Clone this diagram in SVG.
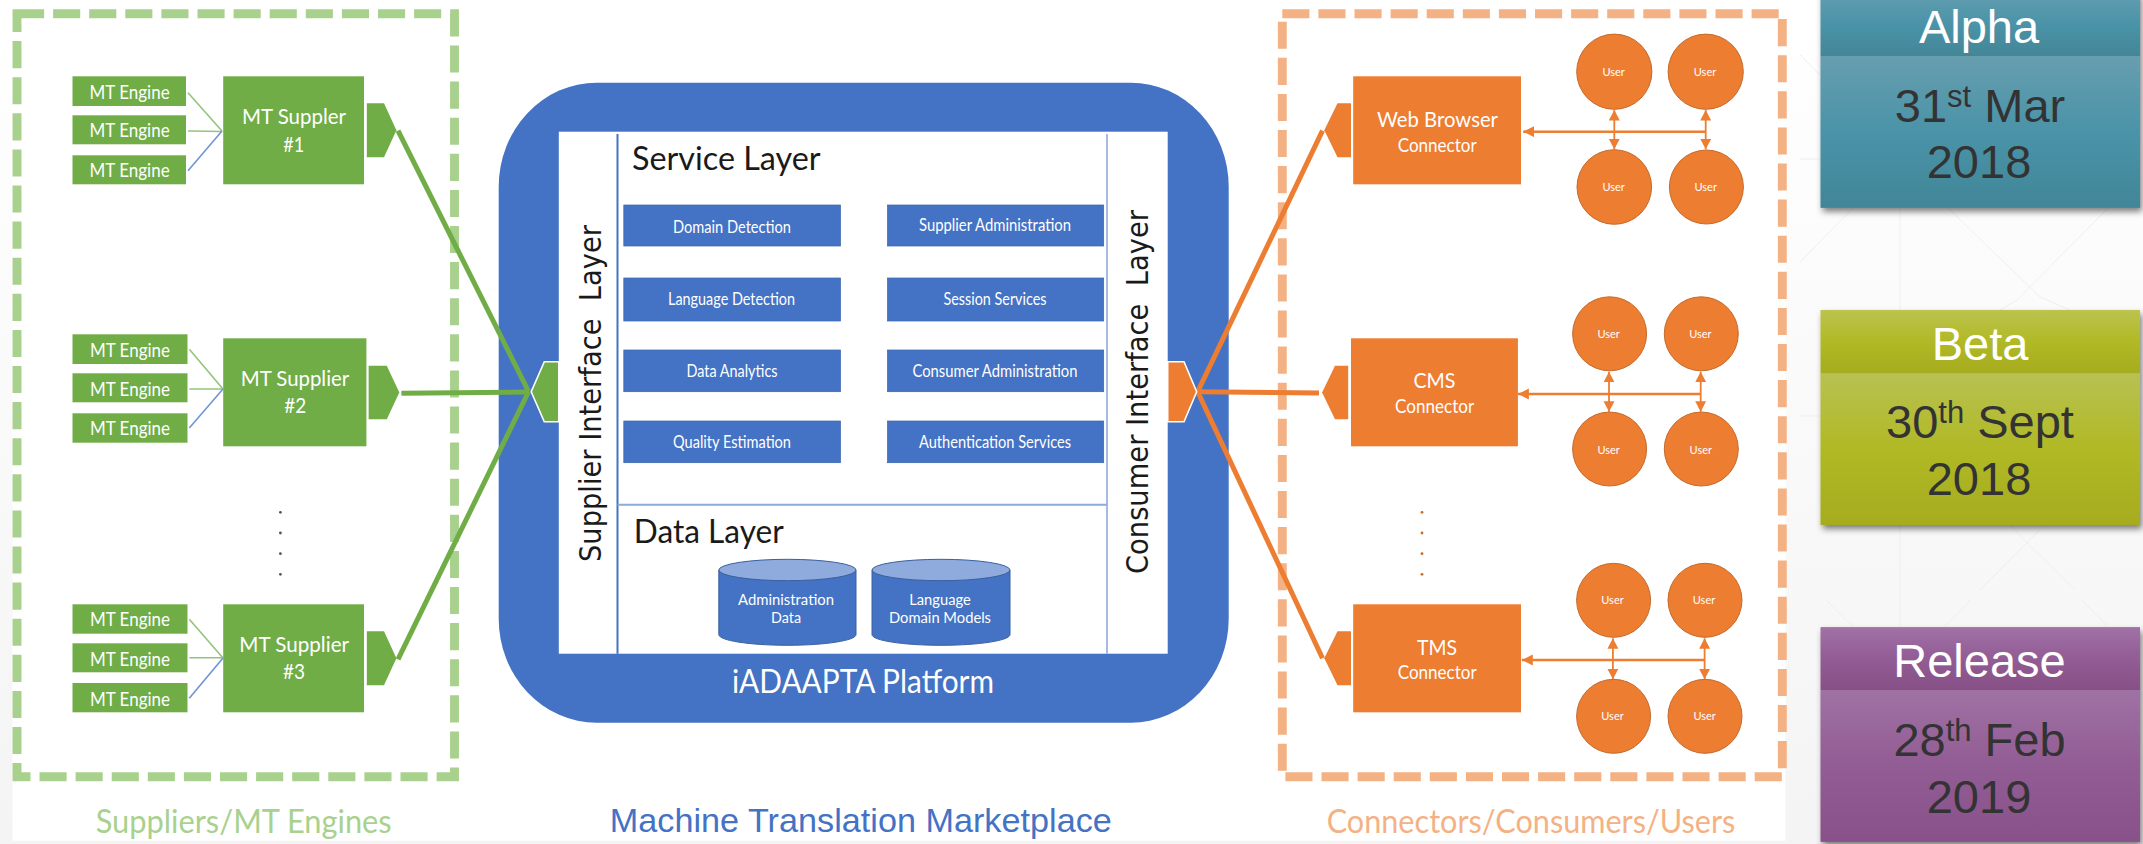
<svg xmlns="http://www.w3.org/2000/svg" width="2143" height="844" viewBox="0 0 2143 844">
<style>
text{font-family:"Lato","Open Sans",sans-serif;fill:#fff;text-anchor:middle;white-space:pre}
.en{font-size:18.5px}.sup{font-size:22px}.sm{font-size:20px}.svc{font-size:17px}.db{font-size:15.5px}.user{font-size:11px}
.eng,.sp,.gp{fill:#70AD47}.op,.on{fill:#ED7D31}
.svcbox{fill:#4472C4;stroke:#3A64AE;stroke-width:.7}
.cy{fill:#4472C4;stroke:#39619f;stroke-width:1}.cyt{fill:#8FAADC;stroke:#39619f;stroke-width:1}
.u{fill:#ED7D31;stroke:#C46A2B;stroke-width:1}
.gl{stroke:#70AD47;stroke-width:5;fill:none}.ol{stroke:#ED7D31;stroke-width:5;fill:none}
.g1{stroke:#93C47D;stroke-width:1.6}.b1{stroke:#6F94D8;stroke-width:1.6}
.oa{stroke:#ED7D31;stroke-width:1.8;marker-start:url(#ah);marker-end:url(#ah)}
.oh{stroke:#ED7D31;stroke-width:2.6;marker-end:url(#ahh)}
.bg{stroke:#EFEFEF;stroke-width:1;fill:none}
.ar{font-family:"Liberation Sans",Arial,sans-serif}
.tl{font-size:47px}.dk{fill:#333}
.rot{font-family:"DejaVu Sans",sans-serif;font-size:30px;fill:#1a1a1a}
.hd{font-size:32px;fill:#1a1a1a}
.cap{font-size:33px}
</style>
<defs>
<linearGradient id="page" x1="0" y1="0" x2="0" y2="1"><stop offset="0" stop-color="#fff"/><stop offset="1" stop-color="#F4F4F4"/></linearGradient>
<linearGradient id="ah1" x1="0" y1="0" x2="0" y2="1"><stop offset="0" stop-color="#639DAF"/><stop offset=".5" stop-color="#4A93A8"/><stop offset="1" stop-color="#438697"/></linearGradient>
<linearGradient id="ab1" x1="0" y1="0" x2="0" y2="1"><stop offset="0" stop-color="#679EAF"/><stop offset=".5" stop-color="#4A93A8"/><stop offset="1" stop-color="#418698"/></linearGradient>
<linearGradient id="bh1" x1="0" y1="0" x2="0" y2="1"><stop offset="0" stop-color="#BCC350"/><stop offset=".5" stop-color="#B1B925"/><stop offset="1" stop-color="#A6AC1E"/></linearGradient>
<linearGradient id="bb1" x1="0" y1="0" x2="0" y2="1"><stop offset="0" stop-color="#B8C152"/><stop offset=".5" stop-color="#B1B925"/><stop offset="1" stop-color="#A6AC1E"/></linearGradient>
<linearGradient id="rh1" x1="0" y1="0" x2="0" y2="1"><stop offset="0" stop-color="#A172A6"/><stop offset=".5" stop-color="#925C94"/><stop offset="1" stop-color="#875087"/></linearGradient>
<linearGradient id="rb1" x1="0" y1="0" x2="0" y2="1"><stop offset="0" stop-color="#9F72A4"/><stop offset=".5" stop-color="#925C94"/><stop offset="1" stop-color="#885189"/></linearGradient>
<filter id="sh" x="-5%" y="-5%" width="110%" height="112%"><feDropShadow dx="2" dy="4" stdDeviation="3" flood-color="#000" flood-opacity=".5"/></filter>
<marker id="ah" markerUnits="userSpaceOnUse" markerWidth="12" markerHeight="12" refX="10.5" refY="5.5" orient="auto-start-reverse"><path d="M0 0L10.5 5.5L0 11z" fill="#ED7D31"/></marker>
<marker id="ahh" markerUnits="userSpaceOnUse" markerWidth="12" markerHeight="12" refX="11" refY="5.5" orient="auto"><path d="M0 0L11 5.5L0 11z" fill="#ED7D31"/></marker>
</defs>

<g id="background">
<rect width="2143" height="844" fill="url(#page)"/>
<path class="bg" d="M1800 55L1820 75M1800 159H1820M1853 208L1800 262M1948 208L2040 297L2070 310M2108 208L2017 300L2000 310M1900 208V310M1900 525V627M1800 416H1820M2010 525L2027 543L2044 525M2027 543L2075 590M2027 543L1980 590M1826 600L1853 627M1945 627L1970 600M2082 600L2108 627"/>
<rect x="12.5" y="8" width="1773" height="832.7" fill="#fff"/>
</g>

<g id="suppliers-region"><rect x="17" y="13.7" width="437.5" height="763" fill="none" stroke="#A9D18E" stroke-width="8.9" stroke-dasharray="27.1 9"/></g>
<g id="consumers-region"><rect x="1282.3" y="13.7" width="500" height="763" fill="none" stroke="#F4B183" stroke-width="8.9" stroke-dasharray="27.1 9"/></g>

<g id="platform">
<rect x="498.7" y="82.7" width="730" height="640" rx="98" ry="104" fill="#4472C4"/>
<rect x="558.8" y="131.7" width="608.9" height="522" fill="#fff"/>
<line x1="617.5" y1="134" x2="617.5" y2="653.7" stroke="#4472C4" stroke-width="2"/>
<line x1="1107" y1="134" x2="1107" y2="653.7" stroke="#8FAADC" stroke-width="1.6"/>
<line x1="617.5" y1="504.7" x2="1107" y2="504.7" stroke="#8FAADC" stroke-width="2"/>
<text class="hd" x="726.3" y="170" textLength="188.6" lengthAdjust="spacingAndGlyphs">Service Layer</text>
<text class="hd" x="708.8" y="543.3" textLength="150" lengthAdjust="spacingAndGlyphs">Data Layer</text>
<text class="cap" x="863" y="693" textLength="262" lengthAdjust="spacingAndGlyphs">iADAAPTA Platform</text>
<text class="rot" transform="translate(600.5,393.5) rotate(-90)" textLength="337" lengthAdjust="spacingAndGlyphs">Supplier Interface  Layer</text>
<text class="rot" transform="translate(1147.8,392) rotate(-90)" textLength="364" lengthAdjust="spacingAndGlyphs">Consumer Interface  Layer</text>
</g>

<g id="svc-domain"><rect class="svcbox" x="623.8" y="205" width="216.7" height="41"/><text class="svc" x="732" y="232.5" textLength="118" lengthAdjust="spacingAndGlyphs">Domain Detection</text></g>
<g id="svc-language"><rect class="svcbox" x="623.8" y="278" width="216.7" height="43"/><text class="svc" x="731.5" y="305" textLength="127" lengthAdjust="spacingAndGlyphs">Language Detection</text></g>
<g id="svc-analytics"><rect class="svcbox" x="623.8" y="350" width="216.7" height="41.7"/><text class="svc" x="732" y="376.5" textLength="91" lengthAdjust="spacingAndGlyphs">Data Analytics</text></g>
<g id="svc-quality"><rect class="svcbox" x="623.8" y="421" width="216.7" height="41.7"/><text class="svc" x="732" y="448" textLength="118" lengthAdjust="spacingAndGlyphs">Quality Estimation</text></g>
<g id="svc-supplier-admin"><rect class="svcbox" x="887.5" y="205" width="216.2" height="41"/><text class="svc" x="995" y="230.5" textLength="152" lengthAdjust="spacingAndGlyphs">Supplier Administration</text></g>
<g id="svc-session"><rect class="svcbox" x="887.5" y="278" width="216.2" height="43"/><text class="svc" x="995" y="305" textLength="103" lengthAdjust="spacingAndGlyphs">Session Services</text></g>
<g id="svc-consumer-admin"><rect class="svcbox" x="887.5" y="350" width="216.2" height="41.7"/><text class="svc" x="995" y="376.5" textLength="165" lengthAdjust="spacingAndGlyphs">Consumer Administration</text></g>
<g id="svc-auth"><rect class="svcbox" x="887.5" y="421" width="216.2" height="41.7"/><text class="svc" x="995" y="448" textLength="152" lengthAdjust="spacingAndGlyphs">Authentication Services</text></g>

<g id="db-admin">
<path class="cy" d="M718.8 570V634.6C718.8 640.5 749.5 645.3 787.4 645.3S856 640.5 856 634.6V570z"/>
<ellipse class="cyt" cx="787.4" cy="570" rx="68.6" ry="10.7"/>
<text class="db" x="786" y="604.5" textLength="96" lengthAdjust="spacingAndGlyphs">Administration</text>
<text class="db" x="786" y="622.5" textLength="30" lengthAdjust="spacingAndGlyphs">Data</text>
</g>
<g id="db-language">
<path class="cy" d="M872 570V634.6C872 640.5 903 645.3 941 645.3S1010 640.5 1010 634.6V570z"/>
<ellipse class="cyt" cx="941" cy="570" rx="69" ry="10.7"/>
<text class="db" x="940" y="604.5" textLength="61.6" lengthAdjust="spacingAndGlyphs">Language</text>
<text class="db" x="940" y="622.5" textLength="102" lengthAdjust="spacingAndGlyphs">Domain Models</text>
</g>

<g id="connectors">
<line class="g1" x1="188" y1="92.7" x2="222" y2="131"/><line class="g1" x1="188" y1="131" x2="222" y2="131.5"/><line class="b1" x1="188" y1="170.7" x2="222" y2="131"/>
<line class="g1" x1="189.3" y1="349.3" x2="223" y2="389"/><line class="g1" x1="189.3" y1="389" x2="223" y2="389"/><line class="b1" x1="189.3" y1="428" x2="223" y2="389"/>
<line class="g1" x1="189.3" y1="619.3" x2="223" y2="658"/><line class="g1" x1="189.3" y1="657.7" x2="223" y2="657.7"/><line class="b1" x1="189.3" y1="698.3" x2="223" y2="658"/>
<line class="gl" x1="398" y1="130.7" x2="528.6" y2="391.7"/>
<line class="gl" x1="401.4" y1="393.3" x2="528.6" y2="392"/>
<line class="gl" x1="398" y1="659.3" x2="528.6" y2="391.7"/>
<line class="ol" x1="1322.5" y1="130.7" x2="1197.7" y2="391.7"/>
<line class="ol" x1="1319" y1="393" x2="1197.7" y2="391.7"/>
<line class="ol" x1="1322.5" y1="658.3" x2="1197.7" y2="391.7"/>
<line class="oh" x1="1705.7" y1="131.7" x2="1523.2" y2="131.7"/>
<line class="oa" x1="1614.3" y1="110" x2="1614.3" y2="149.3"/><line class="oa" x1="1705.7" y1="110" x2="1705.7" y2="149.3"/>
<line class="oh" x1="1701" y1="394" x2="1517.9" y2="394"/>
<line class="oa" x1="1609" y1="371.7" x2="1609" y2="411.7"/><line class="oa" x1="1700.7" y1="371.7" x2="1700.7" y2="411.7"/>
<line class="oh" x1="1704.6" y1="660" x2="1521.8" y2="660"/>
<line class="oa" x1="1612.9" y1="638.3" x2="1612.9" y2="679.3"/><line class="oa" x1="1704.6" y1="638.3" x2="1704.6" y2="679.3"/>
</g>

<g id="hub-supplier"><path d="M558.8 361.7H544.3L531.2 391.7L544.3 421.7H558.8z" fill="#70AD47" stroke="#fff" stroke-width="1.6"/></g>
<g id="hub-consumer"><path d="M1167.7 361.7H1184L1196.7 391.7L1184 421.7H1167.7z" fill="#ED7D31" stroke="#fff" stroke-width="1.6"/></g>

<g id="engines-1">
<rect class="eng" x="72.5" y="76.3" width="113.5" height="29.7"/><text class="en" x="129.6" y="98.5" textLength="80" lengthAdjust="spacingAndGlyphs">MT Engine</text>
<rect class="eng" x="72.5" y="115.3" width="113.5" height="29"/><text class="en" x="129.6" y="137.3" textLength="80" lengthAdjust="spacingAndGlyphs">MT Engine</text>
<rect class="eng" x="72.5" y="155.3" width="113.5" height="29"/><text class="en" x="129.6" y="177.3" textLength="80" lengthAdjust="spacingAndGlyphs">MT Engine</text>
</g>
<g id="engines-2">
<rect class="eng" x="72.5" y="334.3" width="115" height="29.7"/><text class="en" x="130" y="357" textLength="80" lengthAdjust="spacingAndGlyphs">MT Engine</text>
<rect class="eng" x="72.5" y="373.3" width="115" height="29"/><text class="en" x="130" y="395.6" textLength="80" lengthAdjust="spacingAndGlyphs">MT Engine</text>
<rect class="eng" x="72.5" y="413.3" width="115" height="29.4"/><text class="en" x="130" y="435.3" textLength="80" lengthAdjust="spacingAndGlyphs">MT Engine</text>
</g>
<g id="engines-3">
<rect class="eng" x="72.5" y="604.3" width="115" height="29.4"/><text class="en" x="130" y="625.5" textLength="80" lengthAdjust="spacingAndGlyphs">MT Engine</text>
<rect class="eng" x="72.5" y="643.3" width="115" height="29"/><text class="en" x="130" y="665.5" textLength="80" lengthAdjust="spacingAndGlyphs">MT Engine</text>
<rect class="eng" x="72.5" y="683" width="115" height="29.3"/><text class="en" x="130" y="705.5" textLength="80" lengthAdjust="spacingAndGlyphs">MT Engine</text>
</g>

<g id="supplier-1"><rect class="sp" x="223.2" y="76.3" width="140.8" height="108"/><path class="gp" d="M366.8 103.3H384L396.4 130.3L384 157.3H366.8z"/>
<text class="sup" x="294" y="124" textLength="104" lengthAdjust="spacingAndGlyphs">MT Suppler</text><text class="sup" x="293.8" y="151.7" textLength="21" lengthAdjust="spacingAndGlyphs">#1</text></g>
<g id="supplier-2"><rect class="sp" x="223.2" y="338.3" width="143.2" height="108"/><path class="gp" d="M368.6 365.7H386.8L399.3 392.5L386.8 419.3H368.6z"/>
<text class="sup" x="295" y="386" textLength="108.6" lengthAdjust="spacingAndGlyphs">MT Supplier</text><text class="sup" x="295.2" y="413.3" textLength="22" lengthAdjust="spacingAndGlyphs">#2</text></g>
<g id="supplier-3"><rect class="sp" x="223.2" y="604.3" width="140.8" height="108"/><path class="gp" d="M366.8 631.3H384L396.4 658.3L384 685.3H366.8z"/>
<text class="sup" x="294.2" y="651.7" textLength="109.7" lengthAdjust="spacingAndGlyphs">MT Supplier</text><text class="sup" x="294" y="679" textLength="22" lengthAdjust="spacingAndGlyphs">#3</text></g>
<g id="dots-suppliers" fill="#555"><circle cx="280.4" cy="512.3" r="1.4"/><circle cx="280.4" cy="533" r="1.4"/><circle cx="280.4" cy="553.7" r="1.4"/><circle cx="280.4" cy="574.3" r="1.4"/></g>

<g id="connector-web"><rect class="on" x="1353.2" y="76.3" width="167.8" height="108"/><path class="op" d="M1351 103.3H1337.5L1324.3 130.3L1337.5 157.3H1351z"/>
<text class="sup" x="1437.5" y="126.7" textLength="121" lengthAdjust="spacingAndGlyphs">Web Browser</text><text class="sm" x="1437.2" y="151.7" textLength="79" lengthAdjust="spacingAndGlyphs">Connector</text></g>
<g id="connector-cms"><rect class="on" x="1351" y="338.3" width="166.9" height="108"/><path class="op" d="M1348.2 365.7H1335L1322.1 392.5L1335 419.3H1348.2z"/>
<text class="sup" x="1434.5" y="388.3" textLength="42" lengthAdjust="spacingAndGlyphs">CMS</text><text class="sm" x="1434.6" y="413.3" textLength="79" lengthAdjust="spacingAndGlyphs">Connector</text></g>
<g id="connector-tms"><rect class="on" x="1353.2" y="604.3" width="167.8" height="108"/><path class="op" d="M1351 631.3H1337.5L1324.3 658.3L1337.5 685.3H1351z"/>
<text class="sup" x="1437" y="655" textLength="40" lengthAdjust="spacingAndGlyphs">TMS</text><text class="sm" x="1437.2" y="679.3" textLength="79" lengthAdjust="spacingAndGlyphs">Connector</text></g>
<g id="dots-connectors" fill="#C9692A"><circle cx="1422" cy="512.3" r="1.4"/><circle cx="1422" cy="533" r="1.4"/><circle cx="1422" cy="553.7" r="1.4"/><circle cx="1422" cy="574.3" r="1.4"/></g>

<g id="user-w1"><circle class="u" cx="1614.3" cy="71.7" r="37.6"/><text class="user" x="1613.6" y="75.5">User</text></g>
<g id="user-w2"><circle class="u" cx="1705.7" cy="71.7" r="37.6"/><text class="user" x="1705" y="75.5">User</text></g>
<g id="user-w3"><circle class="u" cx="1614.3" cy="187" r="37.3"/><text class="user" x="1613.6" y="190.8">User</text></g>
<g id="user-w4"><circle class="u" cx="1706.4" cy="187" r="37"/><text class="user" x="1705.7" y="190.8">User</text></g>
<g id="user-c1"><circle class="u" cx="1609.6" cy="333.8" r="37"/><text class="user" x="1608.6" y="337.8">User</text></g>
<g id="user-c2"><circle class="u" cx="1701.3" cy="333.8" r="37"/><text class="user" x="1700.4" y="337.8">User</text></g>
<g id="user-c3"><circle class="u" cx="1609.6" cy="449" r="37"/><text class="user" x="1608.6" y="453.5">User</text></g>
<g id="user-c4"><circle class="u" cx="1701.3" cy="449" r="37"/><text class="user" x="1700.8" y="453.5">User</text></g>
<g id="user-t1"><circle class="u" cx="1613.6" cy="600.3" r="37"/><text class="user" x="1612.5" y="603.8">User</text></g>
<g id="user-t2"><circle class="u" cx="1705" cy="600.3" r="37"/><text class="user" x="1704" y="603.8">User</text></g>
<g id="user-t3"><circle class="u" cx="1613.6" cy="716.3" r="37"/><text class="user" x="1612.5" y="719.8">User</text></g>
<g id="user-t4"><circle class="u" cx="1705" cy="716.3" r="37"/><text class="user" x="1704.6" y="719.8">User</text></g>

<g id="captions">
<text class="cap" x="243.7" y="833.3" style="fill:#A9D18E" textLength="296" lengthAdjust="spacingAndGlyphs">Suppliers/MT Engines</text>
<text class="ar" x="860.8" y="831.7" style="fill:#4472C4;font-size:34px" textLength="502" lengthAdjust="spacingAndGlyphs">Machine Translation Marketplace</text>
<text class="cap" x="1531" y="833.3" style="fill:#F4B183" textLength="408.6" lengthAdjust="spacingAndGlyphs">Connectors/Consumers/Users</text>
</g>

<g id="milestone-alpha">
<g filter="url(#sh)"><rect x="1820.7" y="-7" width="319.3" height="214.7" fill="url(#ab1)"/></g>
<rect x="1820.7" y="-7" width="319.3" height="63" fill="url(#ah1)"/>
<rect x="1820.7" y="56" width="319.3" height="151.7" fill="url(#ab1)"/>
<text class="ar tl" x="1979" y="43.3">Alpha</text>
<text class="ar tl dk" x="1980" y="121.7">31<tspan font-size="31" dy="-15">st</tspan><tspan dy="15"> Mar</tspan></text>
<text class="ar tl dk" x="1979" y="178.3">2018</text>
</g>
<g id="milestone-beta">
<g filter="url(#sh)"><rect x="1820.7" y="310" width="319.3" height="215" fill="url(#bb1)"/></g>
<rect x="1820.7" y="310" width="319.3" height="63.3" fill="url(#bh1)"/>
<rect x="1820.7" y="373.3" width="319.3" height="151.7" fill="url(#bb1)"/>
<text class="ar tl" x="1980" y="360">Beta</text>
<text class="ar tl dk" x="1980" y="438.3">30<tspan font-size="31" dy="-15">th</tspan><tspan dy="15"> Sept</tspan></text>
<text class="ar tl dk" x="1979" y="495">2018</text>
</g>
<g id="milestone-release">
<g filter="url(#sh)"><rect x="1820.7" y="627.3" width="319.3" height="214.4" fill="url(#rb1)"/></g>
<rect x="1820.7" y="627.3" width="319.3" height="62.7" fill="url(#rh1)"/>
<rect x="1820.7" y="690" width="319.3" height="151.7" fill="url(#rb1)"/>
<text class="ar tl" x="1979.5" y="677.3">Release</text>
<text class="ar tl dk" x="1979.5" y="756">28<tspan font-size="31" dy="-15">th</tspan><tspan dy="15"> Feb</tspan></text>
<text class="ar tl dk" x="1979" y="813.3">2019</text>
</g>
</svg>
